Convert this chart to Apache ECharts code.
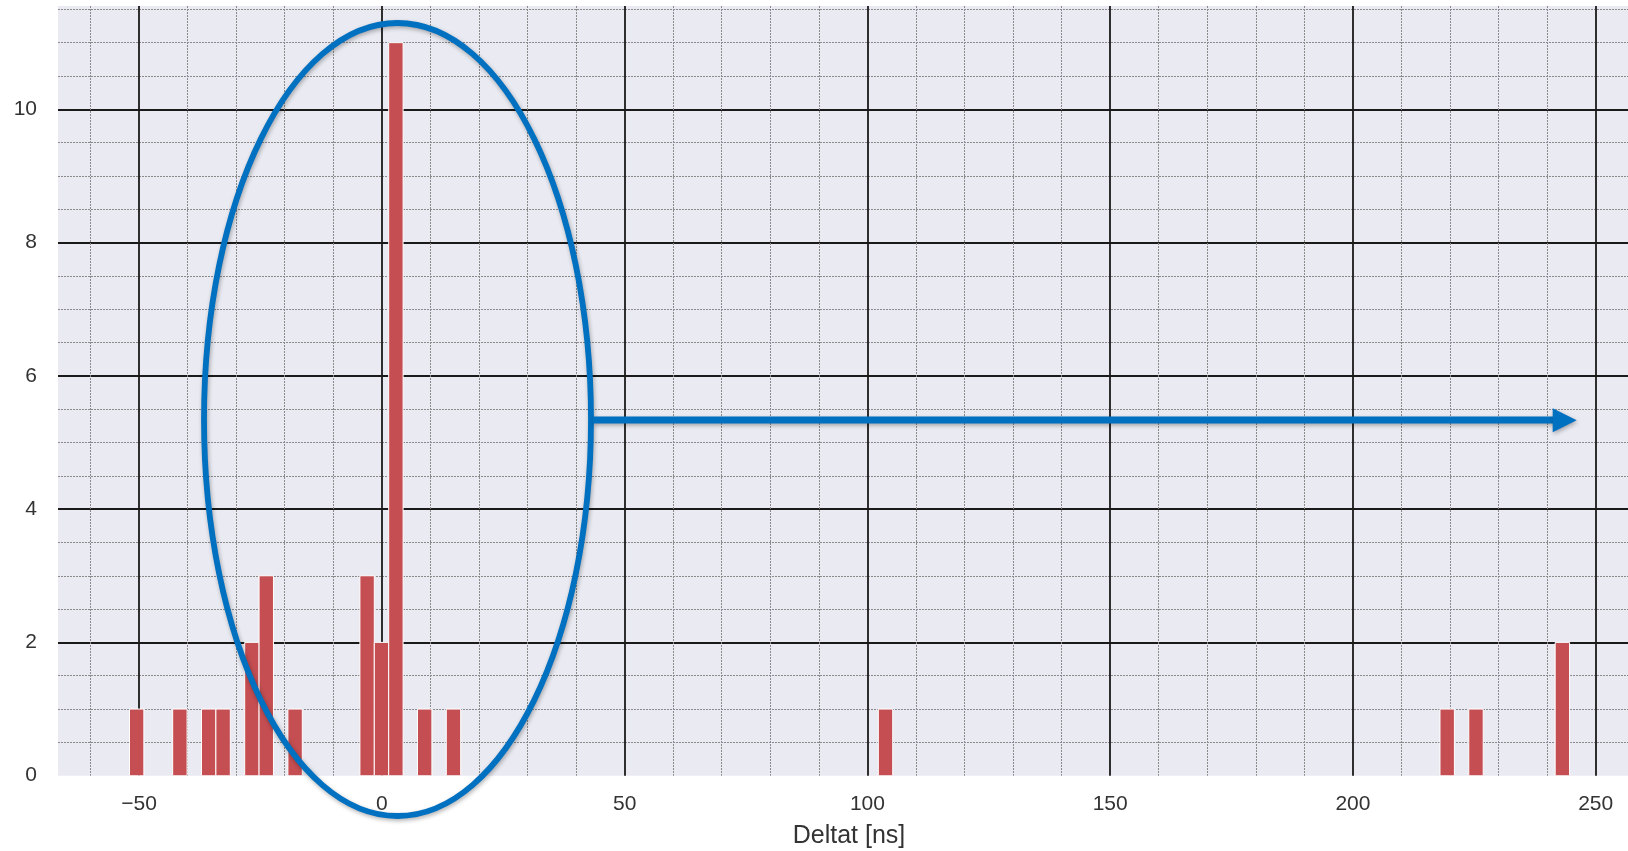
<!DOCTYPE html>
<html>
<head>
<meta charset="utf-8">
<script src="https://cdn.jsdelivr.net/npm/echarts@6/dist/echarts.min.js"></script>
<style>
  html, body { margin: 0; padding: 0; background: #ffffff; }
  #chart { width: 1628px; height: 851px; }
</style>
</head>
<body>
<div id="chart"></div>
<script>
// ---- Data (histogram, 100 bins, width ~2.966 ns) ----
const binLeft = [-51.98, -43.08, -37.15, -34.18, -28.25, -25.29, -19.35, -4.52, -1.56, 1.41, 7.34, 13.27, 102.25, 217.93, 223.86, 241.65];
const binWidth = 2.966;
const counts  = [1, 1, 1, 1, 2, 3, 1, 3, 2, 11, 1, 1, 1, 1, 1, 2];
const xAxisName = 'Deltat [ns]';

const histData = binLeft.map((l, i) => [l, l + binWidth, counts[i]]);

const FONT = '"Liberation Sans", Arial, Helvetica, sans-serif';
const TXT = '#333333';

const chart = echarts.init(document.getElementById('chart'), null, { renderer: 'canvas' });

const option = {
  animation: false,
  backgroundColor: '#ffffff',
  grid: {
    left: 58, right: 0, top: 6, bottom: 75.3,
    outerBoundsMode: 'none',
    containLabel: false,
    show: true, backgroundColor: '#EAEAF2', borderWidth: 0
  },
  xAxis: {
    type: 'value',
    min: -66.7, max: 256.65,
    splitNumber: 6,
    name: xAxisName,
    nameLocation: 'middle',
    nameGap: 48,
    nameTextStyle: { fontFamily: FONT, fontSize: 25, color: TXT, padding: [0, 0, 0, 12] },
    axisLine: { show: false },
    axisTick: { show: false },
    axisLabel: {
      show: true, margin: 18, fontFamily: FONT, fontSize: 21, color: TXT,
      showMinLabel: false, showMaxLabel: false,
      formatter: v => (v < 0 ? '\u2212' + Math.abs(v) : String(v))
    },
    splitLine: { show: true, showMinLine: false, showMaxLine: false, lineStyle: { color: '#1a1a1a', width: 1.8 } },
    minorTick: { show: false, splitNumber: 5 },
    minorSplitLine: { show: true, lineStyle: { color: '#8a8a8a', width: 1, type: [2, 1] } }
  },
  yAxis: {
    type: 'value',
    min: 0, max: 11.55,
    splitNumber: 6,
    axisLine: { show: false },
    axisTick: { show: false },
    axisLabel: {
      show: true, margin: 21, fontFamily: FONT, fontSize: 21, color: TXT,
      showMinLabel: true, showMaxLabel: false
    },
    splitLine: { show: true, showMinLine: false, showMaxLine: false, lineStyle: { color: '#1a1a1a', width: 1.8 } },
    minorTick: { show: false, splitNumber: 4 },
    minorSplitLine: { show: true, lineStyle: { color: '#8a8a8a', width: 1, type: [2, 1] } }
  },
  series: [{
    type: 'custom',
    data: histData,
    encode: { x: [0, 1], y: 2 },
    clip: true,
    renderItem: function (params, api) {
      const l = api.value(0), r = api.value(1), v = api.value(2);
      const pTop = api.coord([l, v]);
      const pBot = api.coord([r, 0]);
      return {
        type: 'rect',
        shape: { x: pTop[0], y: pTop[1], width: pBot[0] - pTop[0], height: pBot[1] - pTop[1] },
        style: { fill: '#C44E52', stroke: '#ffffff', lineWidth: 1 }
      };
    }
  }],
  graphic: [
    {
      type: 'ellipse', z: 100,
      shape: { cx: 397.5, cy: 419.5, rx: 193.5, ry: 396.5 },
      style: { fill: 'none', stroke: '#0070C0', lineWidth: 5.8,
               shadowBlur: 4, shadowColor: 'rgba(0,0,0,0.3)', shadowOffsetX: 1, shadowOffsetY: 2 }
    },
    {
      type: 'line', z: 100,
      shape: { x1: 593, y1: 420, x2: 1556, y2: 420 },
      style: { stroke: '#0070C0', lineWidth: 7,
               shadowBlur: 4, shadowColor: 'rgba(0,0,0,0.3)', shadowOffsetX: 1, shadowOffsetY: 2 }
    },
    {
      type: 'polygon', z: 100,
      shape: { points: [[1552.7, 408.3], [1576.7, 420.3], [1552.7, 432.3]] },
      style: { fill: '#0070C0',
               shadowBlur: 4, shadowColor: 'rgba(0,0,0,0.3)', shadowOffsetX: 1, shadowOffsetY: 2 }
    }
  ]
};

chart.setOption(option);
</script>
</body>
</html>
